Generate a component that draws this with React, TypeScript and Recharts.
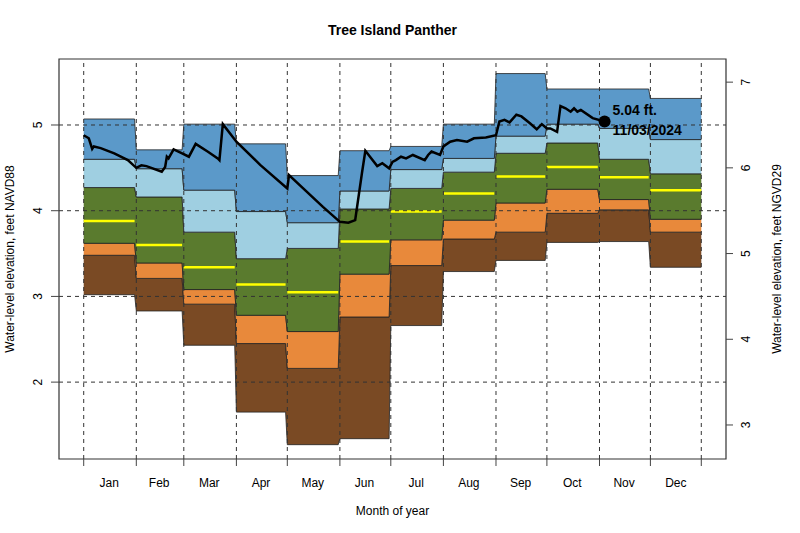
import React from "react";
import {
  ComposedChart,
  Area,
  Line,
  Scatter,
  XAxis,
  YAxis,
  ReferenceLine,
  ReferenceArea,
} from "recharts";

// Month definitions (day-of-year)
const months = ["Jan", "Feb", "Mar", "Apr", "May", "Jun", "Jul", "Aug", "Sep", "Oct", "Nov", "Dec"];
const monthStart = [1, 32, 60, 91, 121, 152, 182, 213, 244, 274, 305, 335];
const monthEnd = [31, 59, 90, 120, 151, 181, 212, 243, 273, 304, 334, 365];
const gridDays = [1, 32, 60, 91, 121, 152, 182, 213, 244, 274, 305, 335, 365];

// Percentile statistics per month (feet NAVD88)
const pMin = [3.02, 2.83, 2.43, 1.65, 1.27, 1.34, 2.66, 3.29, 3.42, 3.63, 3.64, 3.34];
const p10 = [3.48, 3.21, 2.91, 2.45, 2.16, 2.76, 3.36, 3.67, 3.75, 3.97, 4.01, 3.75];
const p25 = [3.62, 3.39, 3.08, 2.78, 2.59, 3.26, 3.66, 3.89, 4.09, 4.25, 4.13, 3.9];
const p50 = [3.88, 3.6, 3.34, 3.14, 3.05, 3.64, 3.99, 4.2, 4.4, 4.51, 4.39, 4.24];
const p75 = [4.27, 4.16, 3.75, 3.44, 3.56, 4.02, 4.26, 4.45, 4.67, 4.79, 4.6, 4.43];
const p90 = [4.6, 4.49, 4.24, 3.99, 3.86, 4.23, 4.48, 4.61, 4.87, 5.01, 4.96, 4.83];
const pMax = [5.07, 4.71, 5.01, 4.78, 4.41, 4.7, 4.75, 5.01, 5.6, 5.42, 5.42, 5.31];

// Daily water level 2024 (day-of-year, feet NAVD88)
const levelDays = [
  1, 4, 6, 7, 11, 19, 27, 32, 35, 38, 47, 49, 50, 51, 54, 59, 63, 67, 74, 80, 81, 83, 91, 105,
  121, 122, 142, 152, 157, 161, 165, 167, 174, 177, 181, 183, 185, 188, 191, 195, 202, 204, 206,
  211, 213, 217, 221, 227, 231, 238, 244, 246, 249, 252, 256, 259, 264, 268, 271, 274, 276, 280,
  282, 285, 288, 290, 292, 294, 301, 308,
];
const levelValues = [
  4.88, 4.845, 4.72, 4.75, 4.73, 4.67, 4.59, 4.5, 4.53, 4.52, 4.455, 4.51, 4.63, 4.61, 4.715, 4.67,
  4.63, 4.78, 4.69, 4.61, 4.59, 5.01, 4.805, 4.535, 4.26, 4.415, 4.045, 3.87, 3.86, 3.89, 4.44,
  4.7, 4.52, 4.555, 4.495, 4.57, 4.59, 4.63, 4.61, 4.65, 4.59, 4.65, 4.69, 4.65, 4.75, 4.805,
  4.825, 4.805, 4.845, 4.855, 4.88, 5.04, 5.06, 5.03, 5.12, 5.1, 5.02, 4.95, 5.01, 4.96, 4.96,
  4.92, 5.22, 5.195, 5.155, 5.195, 5.155, 5.175, 5.08, 5.04,
];

const currentDay = 308;
const currentValue = 5.04;
const currentDate = "11/03/2024";

const leftTicks = [2, 3, 4, 5];
const rightTicks = [3, 4, 5, 6, 7];
const datumShift = 1.5; // NGVD29 = NAVD88 + 1.5

const xDomain: [number, number] = [1 - 364 * 0.04, 365 + 364 * 0.04];
const yDomain: [number, number] = [1.103, 5.77];

const colors = {
  max: "#5B99C9",
  p90: "#9FCFE1",
  p75: "#5A7B2E",
  p25: "#E8893B",
  p10: "#7A4A24",
  median: "#FFFF00",
};

// Build band table
const bandData: any[] = [];
months.forEach((_, i) => {
  [monthStart[i], monthEnd[i]].forEach((d) => {
    bandData.push({
      day: d,
      b1: [pMin[i], p10[i]],
      b2: [p10[i], p25[i]],
      b3: [p25[i], p75[i]],
      b4: [p75[i], p90[i]],
      b5: [p90[i], pMax[i]],
    });
  });
});

const medianData: any[] = [];
months.forEach((_, i) => {
  medianData.push({ day: monthStart[i], median: p50[i] });
  medianData.push({ day: monthEnd[i], median: p50[i] });
  medianData.push({ day: monthEnd[i] + 0.5, median: null });
});

const levelData = levelDays.map((d, i) => ({ day: d, level: levelValues[i] }));
const pointData = [{ day: currentDay, level: currentValue }];

const monthMid = months.map((_, i) => (monthStart[i] + monthEnd[i]) / 2);
const xTicks = [...gridDays, ...monthMid];

const FONT = "'Liberation Sans', Arial, Helvetica, sans-serif";

const XTick = (props: any) => {
  const { x, y, payload } = props;
  const v = payload.value;
  const midIdx = monthMid.indexOf(v);
  if (midIdx >= 0) {
    return (
      <text x={x} y={y + 28} textAnchor="middle" fontSize={12} fontFamily={FONT} fill="#000">
        {months[midIdx]}
      </text>
    );
  }
  return <line x1={x} x2={x} y1={y} y2={y + 7} stroke="#444" strokeWidth={1} />;
};

const LeftTick = (props: any) => {
  const { x, y, payload } = props;
  return (
    <g>
      <line x1={x - 8} x2={x} y1={y} y2={y} stroke="#444" strokeWidth={1} />
      <text
        x={x - 21}
        y={y}
        transform={`rotate(-90 ${x - 21} ${y})`}
        textAnchor="middle"
        dominantBaseline="central"
        fontSize={12}
        fontFamily={FONT}
        fill="#000"
      >
        {payload.value}
      </text>
    </g>
  );
};

const RightTick = (props: any) => {
  const { x, y, payload } = props;
  return (
    <g>
      <line x1={x} x2={x + 7} y1={y} y2={y} stroke="#444" strokeWidth={1} />
      <text
        x={x + 20}
        y={y}
        transform={`rotate(-90 ${x + 20} ${y})`}
        textAnchor="middle"
        dominantBaseline="central"
        fontSize={12}
        fontFamily={FONT}
        fill="#000"
      >
        {payload.value}
      </text>
    </g>
  );
};

const PointShape = (props: any) => {
  const { cx, cy } = props;
  return (
    <g>
      <circle cx={cx} cy={cy} r={6} fill="#000" />
      <text x={cx + 8} y={cy - 12} fontSize={14} fontWeight="bold" fontFamily={FONT} fill="#000" dominantBaseline="central">
        {`${currentValue.toFixed(2)} ft.`}
      </text>
      <text x={cx + 8} y={cy + 8} fontSize={14} fontWeight="bold" fontFamily={FONT} fill="#000" dominantBaseline="central">
        {currentDate}
      </text>
    </g>
  );
};

const W = 800;
const H = 533;

export default function App() {
  return (
    <div style={{ position: "absolute", left: 0, top: 0, width: W, height: H, background: "#fff" }}>
      <ComposedChart
        width={W}
        height={H}
        data={bandData}
        margin={{ top: 59, right: 0, bottom: 0, left: 0 }}
      >
        <XAxis
          dataKey="day"
          type="number"
          domain={xDomain}
          allowDataOverflow
          ticks={xTicks}
          interval={0}
          tick={<XTick />}
          tickLine={false}
          tickSize={0}
          tickMargin={0}
          axisLine={false}
          height={74}
        />
        <YAxis
          yAxisId="left"
          type="number"
          domain={yDomain}
          allowDataOverflow
          ticks={leftTicks}
          interval={0}
          tick={<LeftTick />}
          tickLine={false}
          tickSize={0}
          tickMargin={0}
          axisLine={false}
          width={59}
        />
        <YAxis
          yAxisId="right"
          orientation="right"
          type="number"
          domain={[yDomain[0] + datumShift, yDomain[1] + datumShift]}
          allowDataOverflow
          ticks={rightTicks}
          interval={0}
          tick={<RightTick />}
          tickLine={false}
          tickSize={0}
          tickMargin={0}
          axisLine={false}
          width={74}
        />
        <Area yAxisId="left" dataKey="b1" type="linear" fill={colors.p10} fillOpacity={1} stroke="#222" strokeWidth={0.8} isAnimationActive={false} />
        <Area yAxisId="left" dataKey="b2" type="linear" fill={colors.p25} fillOpacity={1} stroke="#222" strokeWidth={0.8} isAnimationActive={false} />
        <Area yAxisId="left" dataKey="b3" type="linear" fill={colors.p75} fillOpacity={1} stroke="#222" strokeWidth={0.8} isAnimationActive={false} />
        <Area yAxisId="left" dataKey="b4" type="linear" fill={colors.p90} fillOpacity={1} stroke="#222" strokeWidth={0.8} isAnimationActive={false} />
        <Area yAxisId="left" dataKey="b5" type="linear" fill={colors.max} fillOpacity={1} stroke="#222" strokeWidth={0.8} isAnimationActive={false} />
        <Line
          yAxisId="left"
          data={medianData}
          dataKey="median"
          type="linear"
          stroke={colors.median}
          strokeWidth={2.5}
          dot={false}
          activeDot={false}
          connectNulls={false}
          isAnimationActive={false}
        />
        {gridDays.map((d) => (
          <ReferenceLine key={`v${d}`} yAxisId="left" x={d} stroke="#333" strokeDasharray="4 4" strokeWidth={1} />
        ))}
        {leftTicks.map((t) => (
          <ReferenceLine key={`h${t}`} yAxisId="left" y={t} stroke="#333" strokeDasharray="4 4" strokeWidth={1} />
        ))}
        <ReferenceArea
          yAxisId="left"
          x1={xDomain[0]}
          x2={xDomain[1]}
          y1={yDomain[0]}
          y2={yDomain[1]}
          fill="none"
          fillOpacity={0}
          stroke="#333"
          strokeWidth={1.2}
        />
        <Line
          yAxisId="left"
          data={levelData}
          dataKey="level"
          type="linear"
          stroke="#000"
          strokeWidth={2.5}
          dot={false}
          activeDot={false}
          isAnimationActive={false}
        />
        <Scatter
          yAxisId="left"
          data={pointData}
          dataKey="level"
          shape={<PointShape />}
          isAnimationActive={false}
        />
      </ComposedChart>
      <svg
        width={W}
        height={H}
        style={{ position: "absolute", left: 0, top: 0, pointerEvents: "none" }}
      >
        <text x={392.5} y={30} textAnchor="middle" dominantBaseline="central" fontSize={14} fontWeight="bold" fontFamily={FONT}>
          Tree Island Panther
        </text>
        <text x={392.5} y={511} textAnchor="middle" dominantBaseline="central" fontSize={12} fontFamily={FONT}>
          Month of year
        </text>
        <text
          x={10}
          y={259}
          transform="rotate(-90 10 259)"
          textAnchor="middle"
          dominantBaseline="central"
          fontSize={12}
          fontFamily={FONT}
        >
          Water-level elevation, feet NAVD88
        </text>
        <text
          x={777}
          y={259}
          transform="rotate(-90 777 259)"
          textAnchor="middle"
          dominantBaseline="central"
          fontSize={12}
          fontFamily={FONT}
        >
          Water-level elevation, feet NGVD29
        </text>
      </svg>
    </div>
  );
}
